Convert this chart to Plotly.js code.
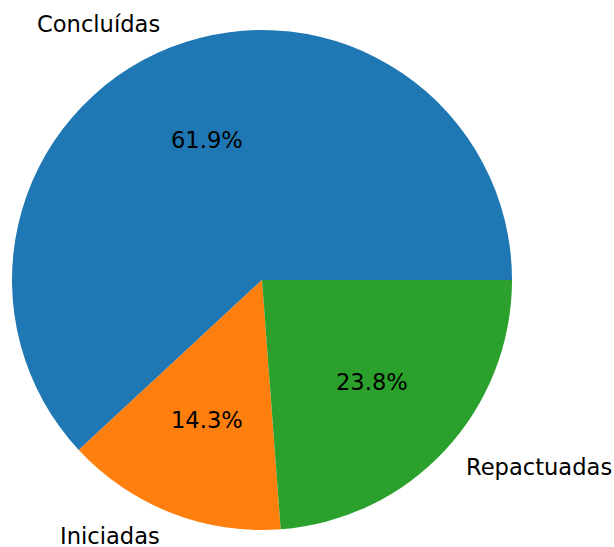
<!DOCTYPE html>
<html>
<head>
<meta charset="utf-8">
<script src="https://cdn.plot.ly/plotly-3.0.1.min.js"></script>
<style>html,body{margin:0;padding:0;background:#fff;}#chart{width:614px;height:547px;}</style>
</head>
<body>
<div id="chart"></div>
<script>
const labels = ["Concluídas", "Iniciadas", "Repactuadas"];
const values = [13, 3, 5];
const colors = ["#1f77b4", "#ff7f0e", "#2ca02c"];

const W = 614, H = 547;
const margin = {l: 12, r: 102, t: 30, b: 17};
const fontFam = "DejaVu Sans, sans-serif";
const fsize = 22.6;

// compute label positions from data (matplotlib-style: start at 0°, counterclockwise)
const total = values.reduce((a, b) => a + b, 0);
const annotations = [];
let start = 0;
values.forEach((v, i) => {
  const span = 360 * v / total;
  const mid = (start + span / 2) * Math.PI / 180;
  start += span;
  const cx = 0.5, cy = 0.5, r = 0.5; // paper units (plot area is square)
  const lx = cx + 1.1 * r * Math.cos(mid), ly = cy + 1.1 * r * Math.sin(mid);
  annotations.push({
    xref: "paper", yref: "paper", x: lx, y: ly, text: labels[i], showarrow: false,
    xanchor: Math.cos(mid) > 0 ? "left" : "right", yanchor: "middle",
    font: {family: fontFam, size: fsize, color: "#000"}
  });
  const px = cx + 0.6 * r * Math.cos(mid), py = cy + 0.6 * r * Math.sin(mid);
  annotations.push({
    xref: "paper", yref: "paper", x: px, y: py,
    text: (100 * v / total).toFixed(1) + "%", showarrow: false,
    xanchor: "center", yanchor: "middle",
    font: {family: fontFam, size: fsize, color: "#000"}
  });
});

// Plotly (counterclockwise): first slice spans [rotation, rotation + v] clockwise,
// so set rotation so that the first slice occupies 0°..span counterclockwise from east.
const rotation = 90 - 360 * values[0] / total;

const data = [{
  type: "pie", labels: labels, values: values, sort: false,
  direction: "counterclockwise", rotation: rotation,
  marker: {colors: colors, line: {width: 0}},
  textinfo: "none", hoverinfo: "label+percent", showlegend: false
}];

const layout = {
  width: W, height: H, margin: margin,
  paper_bgcolor: "#fff", plot_bgcolor: "#fff",
  showlegend: false, annotations: annotations,
  font: {family: fontFam}
};
Plotly.newPlot("chart", data, layout, {displayModeBar: false, staticPlot: true});
</script>
</body>
</html>
